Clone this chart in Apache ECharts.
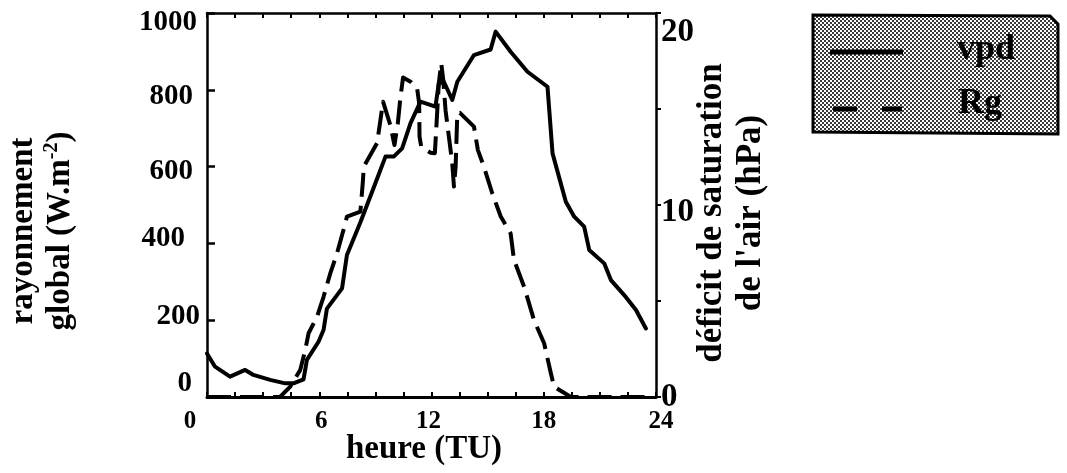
<!DOCTYPE html>
<html>
<head>
<meta charset="utf-8">
<script src="https://cdn.jsdelivr.net/npm/echarts@6/dist/echarts.min.js"></script>
<style>
  html, body { margin: 0; padding: 0; background: #fff; }
  #chart { width: 1067px; height: 473px; }
</style>
</head>
<body>
<div id="chart"></div>
<script>
// Hour of day (TU) and vapour pressure deficit (hPa)
const vpdHours = [0, 0.43, 1.23, 2.04, 2.48, 3.38, 4.18, 4.62, 5.16, 5.34, 5.96, 6.23, 6.41, 7.22, 7.48, 8.2, 9.0, 9.54, 9.98, 10.43, 10.88, 11.41, 12.21, 12.39, 12.66, 13.11, 13.38, 14.27, 15.16, 15.43, 16.23, 17.13, 18.2, 18.47, 19.18, 19.63, 20.16, 20.43, 21.23, 21.59, 22.3, 22.93, 23.46];
const vpdValues = [2.27, 1.58, 1.06, 1.41, 1.15, 0.89, 0.71, 0.71, 0.92, 1.93, 2.88, 3.49, 4.6, 5.66, 7.4, 9.1, 11.13, 12.52, 12.52, 12.95, 14.26, 15.38, 15.12, 16.34, 16.42, 15.47, 16.42, 17.81, 18.1, 19.03, 17.98, 16.94, 16.16, 12.69, 10.17, 9.39, 8.87, 7.66, 6.96, 6.09, 5.31, 4.53, 3.57];

// Hour of day (TU) and global radiation (W.m-2)
const rgHours = [0, 3.9, 4.45, 4.98, 5.25, 5.43, 5.88, 6.23, 6.59, 6.95, 7.39, 7.48, 8.2, 8.33, 8.38, 9.09, 9.27, 9.41, 9.8, 10.02, 10.2, 10.34, 10.48, 10.88, 11.23, 11.34, 11.36, 11.45, 11.95, 12.18, 12.25, 12.39, 12.52, 12.63, 12.75, 12.93, 13.11, 13.2, 13.29, 13.38, 13.52, 14.27, 14.48, 14.8, 15.25, 15.7, 16.23, 16.41, 16.95, 17.48, 18.02, 18.38, 18.55, 19.45, 23.55];
const rgValues = [0, 0, 27, 70, 122, 166, 209, 261, 322, 374, 452, 470, 483, 560, 600, 661, 721, 769, 708, 656, 713, 780, 832, 821, 804, 765, 678, 652, 636, 635, 695, 817, 869, 825, 747, 678, 608, 548, 600, 739, 740, 704, 643, 600, 530, 470, 426, 357, 287, 200, 140, 62, 27, 0, 0];

// Tick labels
const hourTicks = [0, 6, 12, 18, 24];
const rgTicks = [0, 200, 400, 600, 800, 1000];
const vpdTicks = [0, 10, 20];

const FONT = '"Liberation Serif", "Times New Roman", serif';

const zip = (xs, ys) => xs.map((x, i) => [x, ys[i]]);

// hand-lettered label nudges: [dx, dy] in pixels
const hourNudge = { 0: [-17, 0], 6: [2, 0], 12: [-3, 0], 18: [0, 0], 24: [5, 0] };
const rgNudge = { 0: [-8, -13], 200: [0, -4], 400: [-15, -5], 600: [-7, 5], 800: [-7, 7], 1000: [-3, 10] };
const vpdNudge = { 0: [0, 0], 10: [0, 7], 20: [0, 19] };

function tokenStyle(size, dx, dy, align) {
  let top = 0, bottom = 0, left = 0, right = 0;
  if (dy > 0) top = 2 * dy; else bottom = -2 * dy;
  if (align === 'center') { if (dx > 0) left = 2 * dx; else right = -2 * dx; }
  else if (align === 'right') { if (dx < 0) right = -dx; }
  else { if (dx > 0) left = dx; }
  return { fontFamily: FONT, fontWeight: 'bold', fontSize: size, color: '#000', padding: [top, right, bottom, left] };
}
function buildRich(prefix, ticks, nudge, size, align) {
  const r = {};
  ticks.forEach(t => { r[prefix + t] = tokenStyle(size, nudge[t][0], nudge[t][1], align); });
  return r;
}

// checker halftone for the key box
const pat = document.createElement('canvas');
pat.width = 4; pat.height = 4;
const pctx = pat.getContext('2d');
pctx.fillStyle = '#ffffff'; pctx.fillRect(0, 0, 4, 4);
pctx.fillStyle = '#3a3a3a'; pctx.fillRect(0, 0, 2, 2); pctx.fillRect(2, 2, 2, 2);

const axisLine = { show: true, onZero: false, lineStyle: { color: '#000', width: 2.5 } };

const chart = echarts.init(document.getElementById('chart'), null, { renderer: 'canvas' });
chart.setOption({
  animation: false,
  backgroundColor: '#fff',
  grid: { left: 207, right: 411, top: 13, bottom: 76, containLabel: false },
  xAxis: [
    {
      type: 'value', min: 0, max: 24, interval: 1.5, position: 'bottom',
      axisLine: { show: true, onZero: false, lineStyle: { color: '#000', width: 3 } },
      axisTick: { show: true, inside: true, length: 5, lineStyle: { color: '#000', width: 2 } },
      splitLine: { show: false },
      axisLabel: {
        margin: 12,
        formatter: v => hourTicks.includes(v) ? `{h${v}|${v}}` : '',
        rich: buildRich('h', hourTicks, hourNudge, 25, 'center')
      }
    },
    {
      type: 'value', min: 0, max: 24, interval: 1.5, position: 'top',
      axisLine: axisLine,
      axisTick: { show: true, inside: true, length: 5, lineStyle: { color: '#000', width: 2 } },
      splitLine: { show: false },
      axisLabel: { show: false }
    }
  ],
  yAxis: [
    {
      type: 'value', min: 0, max: 1000, interval: 200, position: 'left',
      axisLine: axisLine,
      axisTick: { show: true, inside: true, length: 8, lineStyle: { color: '#000', width: 2.5 } },
      splitLine: { show: false },
      axisLabel: {
        margin: 7,
        formatter: v => `{l${v}|${v}}`,
        rich: buildRich('l', rgTicks, rgNudge, 29, 'right')
      }
    },
    {
      type: 'value', min: 0, max: 20, interval: 5, position: 'right',
      axisLine: axisLine,
      axisTick: { show: true, inside: false, length: 5, lineStyle: { color: '#000', width: 2 } },
      splitLine: { show: false },
      axisLabel: {
        margin: 5,
        formatter: v => vpdTicks.includes(v) ? `{r${v}|${v}}` : '',
        rich: buildRich('r', vpdTicks, vpdNudge, 33, 'left')
      }
    }
  ],
  series: [
    {
      name: 'vpd', type: 'line', xAxisIndex: 0, yAxisIndex: 1,
      data: zip(vpdHours, vpdValues),
      showSymbol: false, symbol: 'none', clip: false,
      lineStyle: { color: '#000', width: 4, type: 'solid', join: 'round', cap: 'round' }
    },
    {
      name: 'Rg', type: 'line', xAxisIndex: 0, yAxisIndex: 0,
      data: zip(rgHours, rgValues),
      showSymbol: false, symbol: 'none', clip: false,
      lineStyle: { color: '#000', width: 4, type: [24, 9], join: 'round', cap: 'butt' }
    }
  ],
  graphic: [
    // axis titles
    {
      type: 'text', x: 42, y: 231, rotation: Math.PI / 2,
      style: {
        text: 'rayonnement\nglobal (W.m{sup|-2})',
        fontFamily: FONT, fontWeight: 'bold', fontSize: 33, lineHeight: 37,
        fill: '#000', align: 'center', verticalAlign: 'middle',
        rich: { sup: { fontFamily: FONT, fontWeight: 'bold', fontSize: 20, verticalAlign: 'top', lineHeight: 37 } }
      }
    },
    {
      type: 'text', x: 731, y: 213, rotation: Math.PI / 2,
      style: {
        text: "déficit de saturation\nde l'air (hPa)",
        fontFamily: FONT, fontWeight: 'bold', fontSize: 35, lineHeight: 39,
        fill: '#000', align: 'center', verticalAlign: 'middle'
      }
    },
    {
      type: 'text', x: 424, y: 449,
      style: {
        text: 'heure (TU)',
        fontFamily: FONT, fontWeight: 'bold', fontSize: 33,
        fill: '#000', align: 'center', verticalAlign: 'middle'
      }
    },
    // key box
    {
      type: 'polygon',
      shape: { points: [[813, 15], [1050, 16], [1058, 24], [1058, 134], [813, 132]] },
      style: { fill: { image: pat, repeat: 'repeat' }, stroke: '#000', lineWidth: 3 }
    },
    {
      type: 'line', shape: { x1: 830, y1: 52, x2: 903, y2: 52 },
      style: { stroke: '#000', lineWidth: 5 }
    },
    {
      type: 'line', shape: { x1: 833, y1: 109, x2: 857, y2: 109 },
      style: { stroke: '#000', lineWidth: 5 }
    },
    {
      type: 'line', shape: { x1: 882, y1: 109, x2: 902, y2: 109 },
      style: { stroke: '#000', lineWidth: 5 }
    },
    {
      type: 'text', x: 957, y: 50,
      style: { text: 'vpd', fontFamily: FONT, fontWeight: 'bold', fontSize: 36, fill: '#000', align: 'left', verticalAlign: 'middle' }
    },
    {
      type: 'text', x: 958, y: 104,
      style: { text: 'Rg', fontFamily: FONT, fontWeight: 'bold', fontSize: 36, fill: '#000', align: 'left', verticalAlign: 'middle' }
    }
  ]
});
</script>
</body>
</html>
